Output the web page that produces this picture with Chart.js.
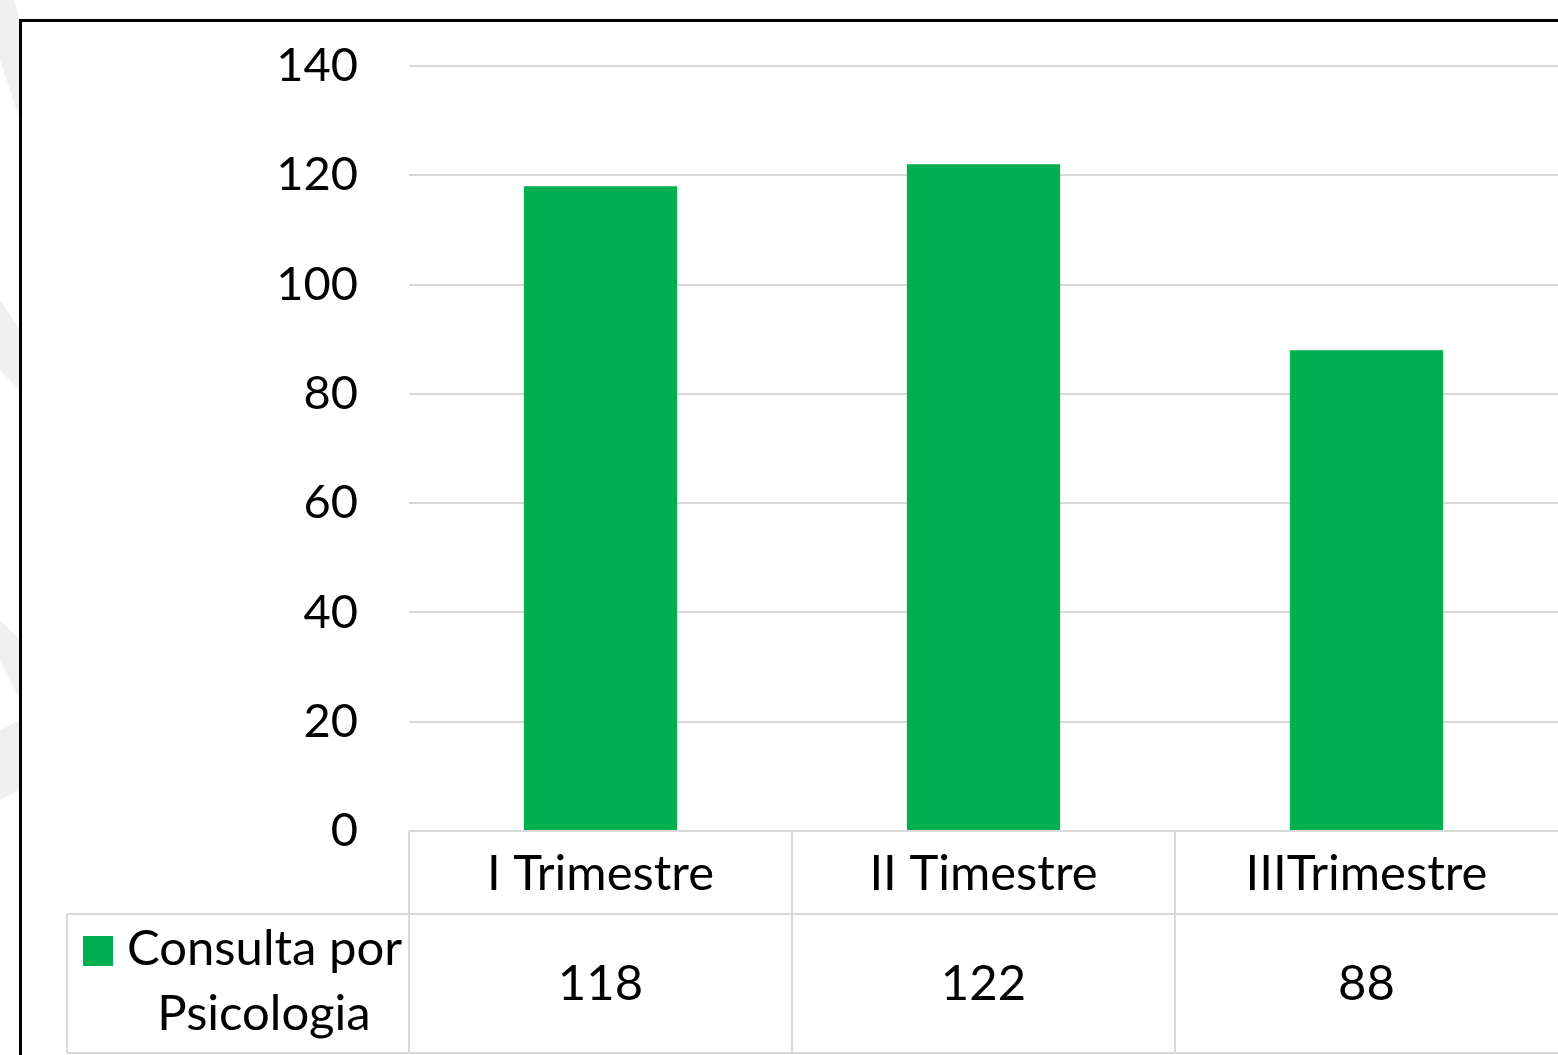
<!DOCTYPE html>
<html><head><meta charset="utf-8">
<script src="https://cdn.jsdelivr.net/npm/chart.js@4.4.0/dist/chart.umd.min.js"></script>
<style>html,body{margin:0;padding:0;background:#fff;overflow:hidden}#wrap{width:1558px;height:1055px;position:relative}</style>
</head><body><div id="wrap"><canvas id="c"></canvas></div>
<script>
const categories = ['I Trimestre', 'II Timestre', 'IIITrimestre'];
const seriesLabel = ['Consulta por', 'Psicologia'];
const values = [118, 122, 88];
const yMin = 0, yMax = 140, yStep = 20;

const FONT = 'Lato, "Open Sans", sans-serif';
const FS_TICK = 47;
const FS = 49;
const GREEN = '#00b050';
const GRID = '#d9d9d9';

const bgPlugin = {
  id: 'bg',
  beforeDraw(chart) {
    const ctx = chart.ctx;
    ctx.save();
    ctx.fillStyle = '#fff';
    ctx.fillRect(0, 0, chart.width, chart.height);
    // faint watermark on the left margin
    ctx.fillStyle = '#f0f0f0';
    const polys = [
      [[0,0],[14,0],[20,20],[20,120],[0,60]],
      [[0,300],[20,330],[20,390],[0,370]],
      [[0,620],[20,640],[20,700],[0,660]],
      [[0,730],[20,720],[20,790],[0,800]]
    ];
    polys.forEach(p => { ctx.beginPath(); p.forEach((pt,i)=> i?ctx.lineTo(pt[0],pt[1]):ctx.moveTo(pt[0],pt[1])); ctx.closePath(); ctx.fill(); });
    ctx.restore();
  }
};

const tablePlugin = {
  id: 'table',
  afterDraw(chart) {
    const ctx = chart.ctx;
    const xs = chart.scales.x;
    const area = chart.chartArea;
    const half = (xs.getPixelForValue(1) - xs.getPixelForValue(0)) / 2;
    const row1Top = area.bottom, row1Bot = 914, row2Bot = 1053, legLeft = 67;
    ctx.save();
    ctx.strokeStyle = GRID;
    ctx.lineWidth = 2;
    ctx.beginPath();
    categories.forEach((c, i) => {
      const lx = xs.getPixelForValue(i) - half;
      ctx.moveTo(lx, row1Top); ctx.lineTo(lx, row2Bot);
    });
    ctx.moveTo(legLeft, row1Bot); ctx.lineTo(chart.width, row1Bot);
    ctx.moveTo(legLeft, row2Bot); ctx.lineTo(chart.width, row2Bot);
    ctx.moveTo(legLeft, row1Bot); ctx.lineTo(legLeft, row2Bot);
    ctx.stroke();

    ctx.fillStyle = '#000';
    ctx.font = FS + 'px ' + FONT;
    ctx.textAlign = 'center';
    ctx.textBaseline = 'alphabetic';
    categories.forEach((c, i) => ctx.fillText(c, xs.getPixelForValue(i), 890));
    values.forEach((v, i) => ctx.fillText(String(v), xs.getPixelForValue(i), 1000));

    // legend key
    ctx.fillStyle = GREEN;
    ctx.fillRect(83, 936, 30, 30);
    ctx.fillStyle = '#000';
    ctx.textAlign = 'left';
    ctx.fillText(seriesLabel[0], 127, 965);
    ctx.textAlign = 'center';
    ctx.fillText(seriesLabel[1], 264, 1030);

    // outer chart border
    ctx.strokeStyle = '#000';
    ctx.lineWidth = 3;
    ctx.beginPath();
    ctx.moveTo(20.5, chart.height + 2);
    ctx.lineTo(20.5, 20.5);
    ctx.lineTo(chart.width + 2, 20.5);
    ctx.stroke();
    ctx.restore();
  }
};

new Chart(document.getElementById('c'), {
  type: 'bar',
  data: {
    labels: categories,
    datasets: [{
      label: seriesLabel.join(' '),
      data: values,
      backgroundColor: GREEN,
      barPercentage: 0.4,
      categoryPercentage: 1.0
    }]
  },
  options: {
    responsive: true,
    maintainAspectRatio: false,
    animation: false,
    layout: { padding: { top: 66, left: 0, right: 0, bottom: 0 } },
    plugins: { legend: { display: false }, tooltip: { enabled: false }, title: { display: false } },
    scales: {
      x: {
        grid: { display: false },
        border: { display: false },
        ticks: { display: false },
        afterFit(s) { s.height = 224; }
      },
      y: {
        min: yMin, max: yMax,
        ticks: { stepSize: yStep, color: '#000', font: { family: FONT, size: FS_TICK }, padding: 51 },
        grid: { color: GRID, lineWidth: 2, drawTicks: false },
        border: { display: false },
        afterFit(s) { s.width = 409; s.paddingTop = 0; s.paddingBottom = 0; }
      }
    }
  },
  plugins: [bgPlugin, tablePlugin]
});
</script></body></html>
